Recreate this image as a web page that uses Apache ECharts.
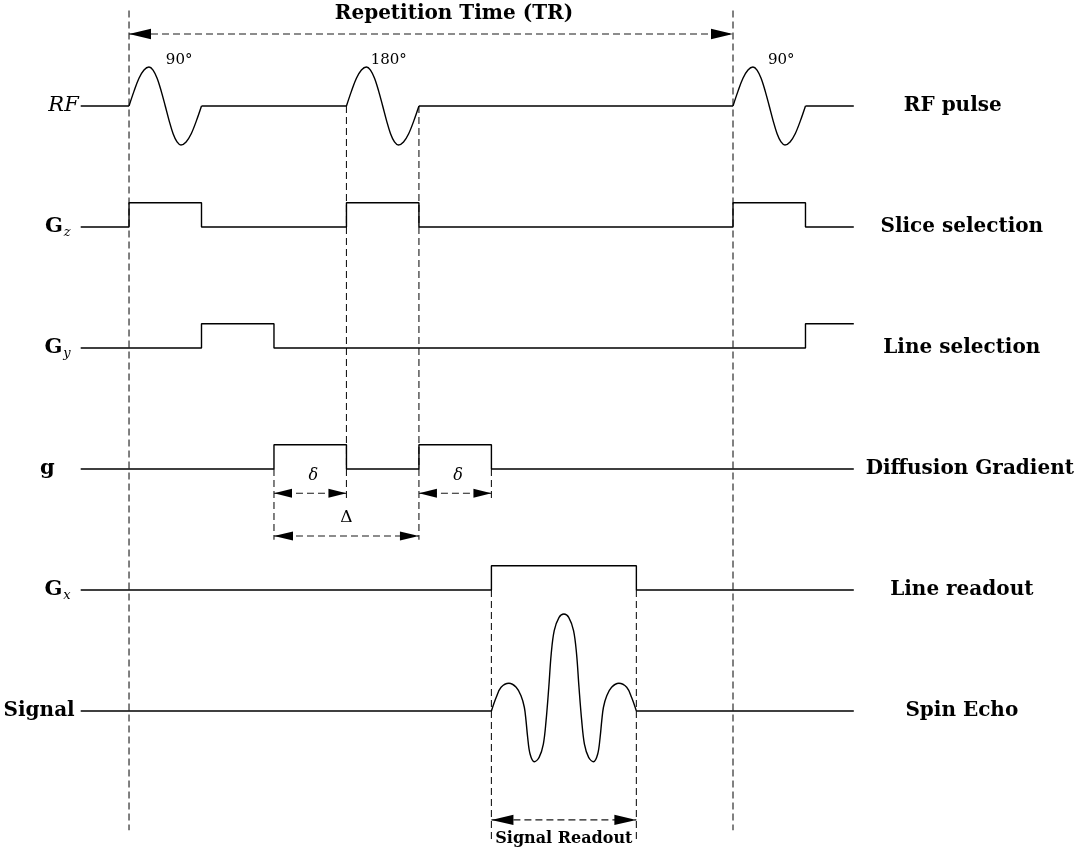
<!DOCTYPE html>
<html>
<head>
<meta charset="utf-8">
<script src="https://cdn.jsdelivr.net/npm/echarts@6/dist/echarts.min.js"></script>
<style>
html,body{margin:0;padding:0;background:#fff;}
#chart{width:1087px;height:850px;}
</style>
</head>
<body>
<div id="chart"></div>
<script>
// ---------------- data ----------------
// time axis: 0 = first 90° pulse, 100 = TR
const timeRange = [-8, 120];
const TR = [0, 100];

// row baselines (vertical units), top to bottom
const rowKeys = ['RF', 'Gz', 'Gy', 'g', 'Gx', 'Signal'];
const rowBaselines = [50, 40, 30, 20, 10, 0];
const rowDescriptions = ['RF pulse', 'Slice selection', 'Line selection', 'Diffusion Gradient', 'Line readout', 'Spin Echo'];

// RF pulses
const rfPulseStarts = [0, 36, 100];
const flipAngles = ['90°', '180°', '90°'];
// shape of one RF pulse: [time offset, amplitude]
const rfPulseShape = [
  [0, 0], [0.83, 1.23], [1.65, 2.29], [2.48, 2.97], [3.3, 3.22],
  [3.98, 2.97], [4.65, 2.29], [5.33, 1.23], [6.0, 0],
  [6.65, -1.23], [7.3, -2.29], [7.95, -2.97], [8.6, -3.22],
  [9.45, -2.97], [10.3, -2.29], [11.15, -1.23], [12, 0]
];

// gradient lobes: [on, off]
const gradAmp = 2;
const gzOn = [[0, 12], [36, 48], [100, 112]];
const gyOn = [[12, 24], [112, 120]];
const gOn = [[24, 36], [48, 60]];
const gxOn = [[60, 84]];

// spin echo signal: [time, amplitude]
const echoSignal = [
  [60.0, 0], [60.8, 1.13], [61.6, 1.96], [62.9, 2.29], [64.1, 1.96], [64.9, 1.26],
  [65.45, 0.31], [65.73, -0.8], [66.0, -2.17], [66.4, -3.55], [67.1, -4.19],
  [67.9, -3.83], [68.6, -2.73], [69.05, -0.8], [69.5, 1.96], [69.9, 4.71],
  [70.4, 6.64], [71.2, 7.74], [72.0, 8.02],
  [72.8, 7.74], [73.6, 6.64], [74.1, 4.71], [74.5, 1.96], [74.95, -0.8],
  [75.4, -2.73], [76.1, -3.83], [76.9, -4.19], [77.6, -3.55], [78.0, -2.17],
  [78.27, -0.8], [78.55, 0.31], [79.1, 1.26], [79.9, 1.96], [81.1, 2.29],
  [82.4, 1.96], [83.2, 1.13], [84.0, 0]
];

// ---------------- build ----------------
const BLACK = '#000';
const DASH = '#1a1a1a';
const waveStyle = { color: BLACK, width: 1.4 };

function lineSeries(points, smooth) {
  return {
    type: 'line', data: points, showSymbol: false, symbol: 'none',
    smooth: smooth || false, lineStyle: waveStyle, clip: false,
    silent: true, animation: false, z: 5
  };
}

function stepLine(on, base) {
  const pts = [[timeRange[0], base]];
  on.forEach(([a, b]) => {
    pts.push([a, base], [a, base + gradAmp], [b, base + gradAmp]);
    if (b < timeRange[1]) pts.push([b, base]);
  });
  const last = pts[pts.length - 1];
  if (last[0] < timeRange[1]) pts.push([timeRange[1], last[1]]);
  return pts;
}

const series = [];
const rfBase = rowBaselines[0];
const pulseLen = rfPulseShape[rfPulseShape.length - 1][0];
// RF baseline segments
let cur = timeRange[0];
rfPulseStarts.forEach(s => {
  series.push(lineSeries([[cur, rfBase], [s, rfBase]]));
  cur = s + pulseLen;
});
series.push(lineSeries([[cur, rfBase], [timeRange[1], rfBase]]));
// RF pulses
rfPulseStarts.forEach(s => {
  series.push(lineSeries(rfPulseShape.map(([dt, a]) => [s + dt, rfBase + a]), 0.35));
});
// gradients
series.push(lineSeries(stepLine(gzOn, rowBaselines[1])));
series.push(lineSeries(stepLine(gyOn, rowBaselines[2])));
series.push(lineSeries(stepLine(gOn, rowBaselines[3])));
series.push(lineSeries(stepLine(gxOn, rowBaselines[4])));
// signal
const sigBase = rowBaselines[5];
series.push(lineSeries([[timeRange[0], sigBase], [echoSignal[0][0], sigBase]]));
series.push(lineSeries(echoSignal.map(([t, a]) => [t, sigBase + a]), 0.35));
series.push(lineSeries([[echoSignal[echoSignal.length - 1][0], sigBase], [timeRange[1], sigBase]]));

// dashed vertical guides: [t, yFrom, yTo]
const yTop = 57.9, yBottom = -9.85;
const deltaArrowY = 18.0, bigDeltaArrowY = 14.46, readoutArrowY = -9.0, trArrowY = 55.95;
const guides = [
  [TR[0], yTop, yBottom],
  [TR[1], yTop, yBottom],
  [gOn[0][1], rfBase, deltaArrowY - 0.4],
  [gOn[1][0], rfBase, bigDeltaArrowY - 0.3],
  [gOn[0][0], rowBaselines[3], bigDeltaArrowY - 0.3],
  [gOn[1][1], rowBaselines[3], deltaArrowY - 0.4],
  [gxOn[0][0], rowBaselines[4], -10.9],
  [gxOn[0][1], rowBaselines[4], -10.9]
];
series.push({
  type: 'custom', data: guides, encode: { x: 0, y: [1, 2] }, silent: true, animation: false, z: 2,
  renderItem: (p, api) => {
    const a = api.coord([api.value(0), api.value(1)]);
    const b = api.coord([api.value(0), api.value(2)]);
    return { type: 'line', shape: { x1: a[0], y1: a[1], x2: b[0], y2: b[1] },
      style: { stroke: DASH, lineWidth: 1.1, lineDash: [7, 4] } };
  }
});

// double-headed dashed arrows: [t1, t2, y, headLen, headHalf]
const arrows = [
  [TR[0], TR[1], trArrowY, 22, 5.2],
  [gOn[0][0], gOn[0][1], deltaArrowY, 18, 4.5],
  [gOn[1][0], gOn[1][1], deltaArrowY, 18, 4.5],
  [gOn[0][0], gOn[1][0], bigDeltaArrowY, 19, 4.5],
  [gxOn[0][0], gxOn[0][1], readoutArrowY, 22, 5.2]
];
series.push({
  type: 'custom', data: arrows, encode: { x: [0, 1], y: 2 }, silent: true, animation: false, z: 3,
  renderItem: (p, api) => {
    const y = api.value(2), L = api.value(3), H = api.value(4);
    const a = api.coord([api.value(0), y]);
    const b = api.coord([api.value(1), y]);
    return { type: 'group', children: [
      { type: 'line', shape: { x1: a[0], y1: a[1], x2: b[0], y2: b[1] },
        style: { stroke: DASH, lineWidth: 1.1, lineDash: [7, 4] } },
      { type: 'polygon', shape: { points: [[a[0], a[1]], [a[0] + L, a[1] - H], [a[0] + L, a[1] + H]] },
        style: { fill: BLACK } },
      { type: 'polygon', shape: { points: [[b[0], b[1]], [b[0] - L, b[1] - H], [b[0] - L, b[1] + H]] },
        style: { fill: BLACK } }
    ] };
  }
});

// text annotations
const SERIF = '"DejaVu Serif", "Liberation Serif", serif';
const flipLabelOffsets = [8.3, 7.0, 8.0];
const annotations = [
  { text: 'Repetition Time (TR)', at: [(TR[0] + TR[1]) / 2 + 3.8, 57.65], font: 'bold 20px ' + SERIF, align: 'center' }
];
flipAngles.forEach((s, i) => annotations.push({ text: s, at: [rfPulseStarts[i] + flipLabelOffsets[i], 53.8], font: '15px ' + SERIF, align: 'center' }));
gOn.forEach(([a, b]) => annotations.push({ text: 'δ', at: [(a + b) / 2 + 0.5, 19.4], font: 'italic 16px ' + SERIF, align: 'center' }));
annotations.push({ text: 'Δ', at: [(gOn[0][0] + gOn[1][0]) / 2, 15.95], font: '17px ' + SERIF, align: 'center' });
annotations.push({ text: 'Signal Readout', at: [(gxOn[0][0] + gxOn[0][1]) / 2, -10.55], font: 'bold 16px ' + SERIF, align: 'center' });

series.push({
  type: 'custom', data: annotations.map(a => a.at), encode: { x: 0, y: 1 }, silent: true, animation: false, z: 6,
  renderItem: (p, api) => {
    const an = annotations[p.dataIndex];
    const c = api.coord([api.value(0), api.value(1)]);
    return { type: 'text', x: c[0], y: c[1],
      style: { text: an.text, font: an.font, fill: BLACK, align: an.align, verticalAlign: 'middle' } };
  }
});

// axis label formatters
const leftLabels = ['{it|RF}', '{b|G}{sub|z}', '{b|G}{sub|y}', '{g|g}', '{b|G}{sub|x}', '{s|Signal}'];
const rightLabels = ['{l|RF pulse}', '{r|Slice selection}', '{r|Line selection}', '{d|Diffusion Gradient}', '{r|Line readout}', '{r|Spin Echo}'];
const rightBase = { fontFamily: SERIF, fontWeight: 'bold', fontSize: 20, color: BLACK };

const chart = echarts.init(document.getElementById('chart'), null, { renderer: 'canvas' });
chart.setOption({
  backgroundColor: '#fff',
  animation: false,
  grid: { left: 80.7, right: 233.2, top: 0, bottom: 0, containLabel: false, outerBoundsMode: 'none' },
  xAxis: { type: 'value', min: timeRange[0], max: timeRange[1], show: false },
  yAxis: [
    {
      type: 'value', min: -11.488, max: 58.76, position: 'left',
      axisLine: { show: false }, axisTick: { show: false }, splitLine: { show: false },
      axisLabel: {
        customValues: rowBaselines, margin: 2,
        formatter: v => { const i = rowBaselines.indexOf(v); return i >= 0 ? leftLabels[i] : ''; },
        rich: {
          it: { fontFamily: SERIF, fontStyle: 'italic', fontSize: 21, color: BLACK },
          b: { fontFamily: SERIF, fontWeight: 'bold', fontSize: 21, color: BLACK },
          s: { fontFamily: SERIF, fontWeight: 'bold', fontSize: 20, color: BLACK, padding: [0, 4, 0, 0] },
          sub: { fontFamily: SERIF, fontStyle: 'italic', fontSize: 13, color: BLACK, padding: [11, 8, 0, 1] },
          g: { fontFamily: SERIF, fontWeight: 'bold', fontSize: 21, color: BLACK, padding: [0, 24, 0, 0] }
        }
      }
    },
    {
      type: 'value', min: -11.488, max: 58.76, position: 'right',
      axisLine: { show: false }, axisTick: { show: false }, splitLine: { show: false },
      axisLabel: {
        customValues: rowBaselines, margin: 108, align: 'center',
        formatter: v => { const i = rowBaselines.indexOf(v); return i >= 0 ? rightLabels[i] : ''; },
        rich: {
          r: rightBase,
          l: Object.assign({}, rightBase, { padding: [0, 18, 0, 0] }),
          d: Object.assign({}, rightBase, { padding: [0, 0, 0, 16] })
        }
      }
    }
  ],
  series: series
});
</script>
</body>
</html>
